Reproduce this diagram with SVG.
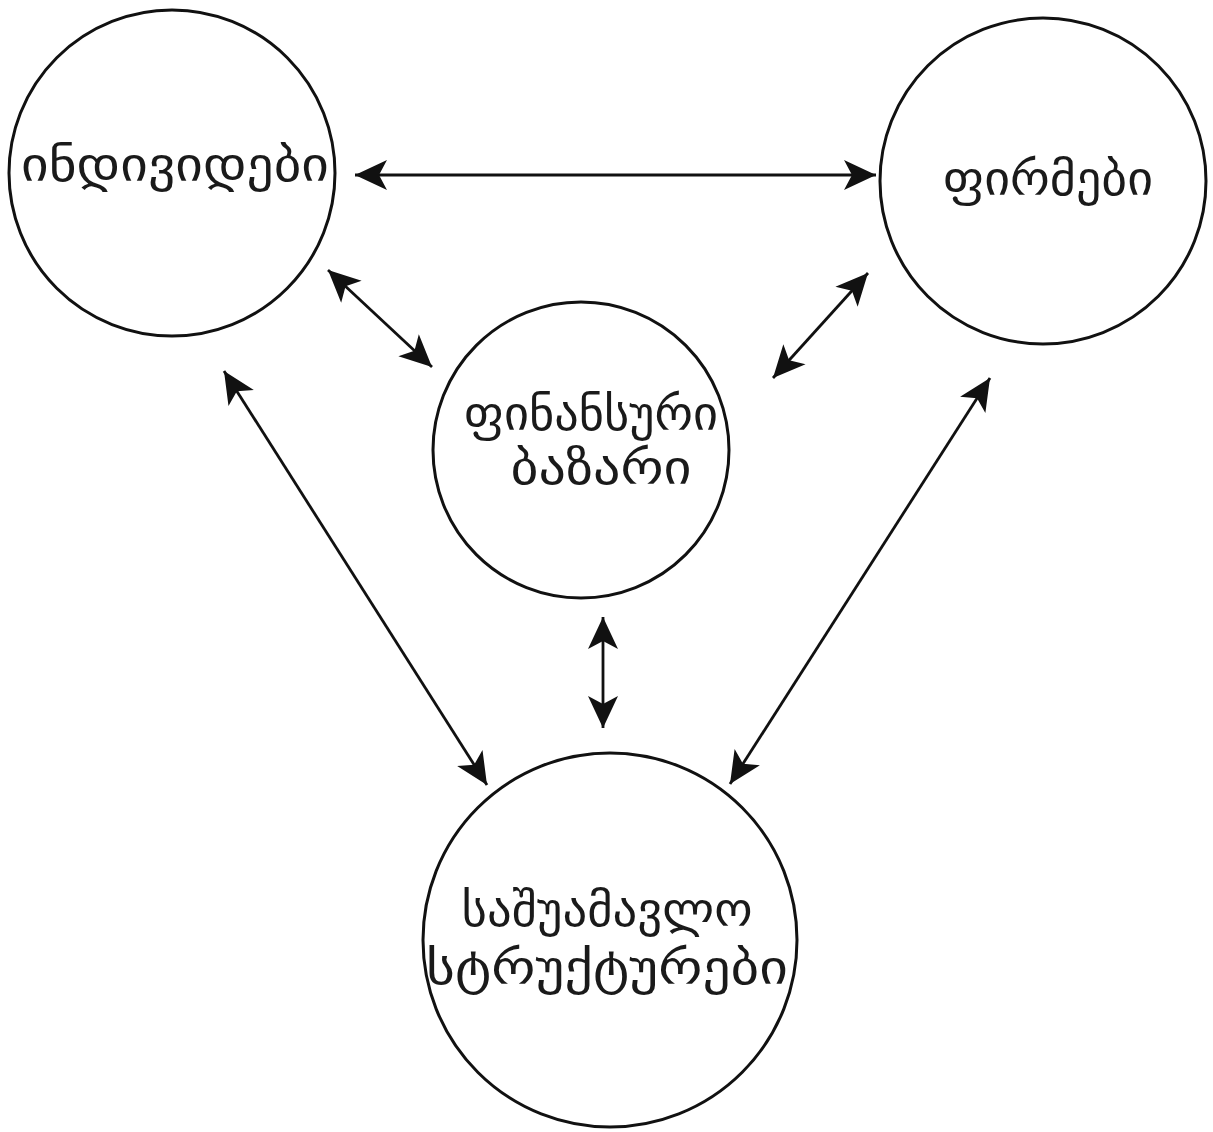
<svg xmlns="http://www.w3.org/2000/svg" width="1213" height="1132" viewBox="0 0 1213 1132">
<style>
.node circle{fill:#fff;stroke:#111;stroke-width:3}
.lbl{font-family:"DejaVu Sans","DejaVu Serif",sans-serif;font-size:48px;fill:#1a1a1a;text-anchor:middle}
.conn line{stroke:#111;stroke-width:2.8;fill:none;marker-start:url(#ah);marker-end:url(#ah)}
</style>
<defs>
<marker id="ah" markerUnits="userSpaceOnUse" markerWidth="34" markerHeight="32" viewBox="-33 -16 34 32" refX="0" refY="0" orient="auto-start-reverse">
<path d="M0,0 L-32,-15 L-24,0 L-32,15 Z" fill="#111"/>
</marker>
</defs>
<rect width="1213" height="1132" fill="#fff"/>
<g id="individuals" class="node">
<circle cx="172" cy="173" r="163"/>
<text class="lbl" x="175" y="181" textLength="308" lengthAdjust="spacingAndGlyphs">ინდივიდები</text>
</g>
<g id="firms" class="node">
<circle cx="1043" cy="181" r="163"/>
<text class="lbl" x="1048" y="195" textLength="210" lengthAdjust="spacingAndGlyphs">ფირმები</text>
</g>
<g id="market" class="node">
<circle cx="581" cy="450" r="148"/>
<text class="lbl" x="591" y="430" textLength="254" lengthAdjust="spacingAndGlyphs">ფინანსური</text>
<text class="lbl" x="601" y="484" textLength="181" lengthAdjust="spacingAndGlyphs">ბაზარი</text>
</g>
<g id="intermediaries" class="node">
<circle cx="610" cy="940" r="187"/>
<text class="lbl" x="607" y="926" textLength="291" lengthAdjust="spacingAndGlyphs">საშუამავლო</text>
<text class="lbl" x="607" y="984" textLength="362" lengthAdjust="spacingAndGlyphs">სტრუქტურები</text>
</g>
<g id="connectors" class="conn">
<line x1="355" y1="175" x2="876" y2="175"/>
<line x1="328" y1="270" x2="432" y2="367"/>
<line x1="868" y1="273" x2="773" y2="378"/>
<line x1="224" y1="371" x2="487" y2="785"/>
<line x1="990" y1="378" x2="730" y2="784"/>
<line x1="603" y1="617" x2="603" y2="728"/>
</g>
</svg>
